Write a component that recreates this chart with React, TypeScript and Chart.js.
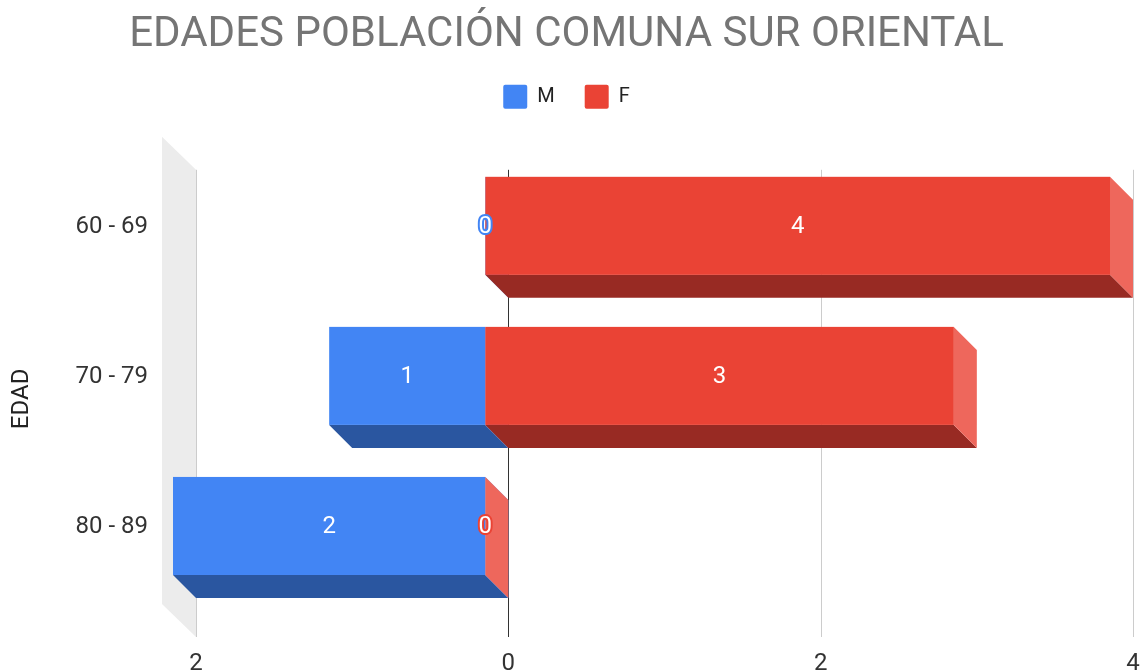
import React, { useEffect, useRef } from 'react';
import { Chart, registerables } from 'chart.js';

Chart.register(...registerables);

const TITLE = 'EDADES POBLACIÓN COMUNA SUR ORIENTAL';
const AXIS_TITLE = 'EDAD';
const categories = ['60 - 69', '70 - 79', '80 - 89'];
const seriesNames = ['M', 'F'];
const maleValues = [0, 1, 2];
const femaleValues = [4, 3, 0];
const xMin = -2;
const xMax = 4;
const xStep = 2;

const FONT = 'Roboto, "Noto Sans", Arial, sans-serif';
const DEPTH = 23;
const WALL_W = 34;
const WALL_RISE = 33;
const FACES = [
  { front: '#4285f4', bottom: '#2a56a0', side: '#6d9ef6' },
  { front: '#ea4335', bottom: '#982a23', side: '#ee675c' },
];

function poly(ctx: CanvasRenderingContext2D, pts: number[][], color: string) {
  ctx.beginPath();
  ctx.moveTo(pts[0][0], pts[0][1]);
  for (let i = 1; i < pts.length; i++) ctx.lineTo(pts[i][0], pts[i][1]);
  ctx.closePath();
  ctx.fillStyle = color;
  ctx.fill();
}

const bars3d = {
  id: 'bars3d',
  beforeDatasetsDraw(chart: any) {
    const ctx: CanvasRenderingContext2D = chart.ctx;
    const { left, top, bottom } = chart.chartArea;
    const gTop = top - 4;
    const gBottom = bottom + 13;
    const d = DEPTH;
    const xs = chart.scales.x;
    const zeroPx = xs.getPixelForValue(0);
    ctx.save();
    // side wall
    poly(ctx, [[left - WALL_W, gTop - WALL_RISE], [left, gTop], [left, gBottom], [left - WALL_W, gBottom - WALL_RISE]], '#ececec');
    // grid lines
    xs.ticks.forEach((t: any) => {
      const px = Math.round(xs.getPixelForValue(t.value)) + 0.5;
      ctx.beginPath();
      ctx.moveTo(px, gTop);
      ctx.lineTo(px, gBottom);
      ctx.lineWidth = 1;
      ctx.strokeStyle = t.value === 0 ? '#333333' : '#cccccc';
      ctx.stroke();
    });
    // bars
    const n = chart.data.labels.length;
    const labels: any[] = [];
    for (let i = 0; i < n; i++) {
      chart.data.datasets.forEach((ds: any, di: number) => {
        const el = chart.getDatasetMeta(di).data[i];
        const { x, y, base, height } = el.getProps(['x', 'y', 'base', 'height'], true);
        const isZero = Number(ds.data[i]) === 0;
        const l = isZero ? zeroPx : Math.min(x, base);
        const r = isZero ? zeroPx : Math.max(x, base);
        const t = y - height / 2;
        const b = y + height / 2;
        const c = FACES[di];
        poly(ctx, [[l - d, b - d], [r - d, b - d], [r, b], [l, b]], c.bottom);
        poly(ctx, [[r - d, t - d], [r, t], [r, b], [r - d, b - d]], c.side);
        if (r - l > 0) {
          ctx.fillStyle = c.front;
          ctx.fillRect(l - d, t - d, r - l, b - t);
        }
        labels.push({ x: (l + r) / 2 - d, y: y - d, v: Math.abs(Number(ds.data[i])), color: c.front });
      });
    }
    // value labels
    ctx.font = `24px ${FONT}`;
    ctx.textAlign = 'center';
    ctx.textBaseline = 'middle';
    labels.forEach((lb) => {
      const txt = String(lb.v);
      if (lb.v === 0) {
        ctx.lineWidth = 4;
        ctx.lineJoin = 'round';
        ctx.strokeStyle = lb.color;
        ctx.strokeText(txt, lb.x, lb.y + 1);
      }
      ctx.fillStyle = '#ffffff';
      ctx.fillText(txt, lb.x, lb.y + 1);
    });
    ctx.restore();
    return false;
  },
};

export default function App() {
  const ref = useRef<HTMLCanvasElement>(null);
  useEffect(() => {
    document.body.style.margin = '0';
    const chart = new Chart(ref.current as HTMLCanvasElement, {
      type: 'bar',
      data: {
        labels: categories,
        datasets: [
          { label: seriesNames[0], data: maleValues.map((v) => -v), backgroundColor: FACES[0].front, borderWidth: 0 },
          { label: seriesNames[1], data: femaleValues, backgroundColor: FACES[1].front, borderWidth: 0 },
        ],
      },
      options: {
        indexAxis: 'y',
        responsive: false,
        animation: false,
        events: [],
        devicePixelRatio: 1,
        datasets: { bar: { barPercentage: 98 / 150, categoryPercentage: 1 } },
        layout: { padding: { left: 0, right: 9, top: 0, bottom: 0 } },
        scales: {
          x: {
            type: 'linear',
            stacked: true,
            min: xMin,
            max: xMax,
            grid: { display: false, drawTicks: true, tickLength: 26 },
            border: { display: false },
            ticks: {
              stepSize: xStep,
              padding: 0,
              color: '#333333',
              font: { family: FONT, size: 24 },
              callback: (v: any) => String(Math.abs(Number(v))),
            },
            afterFit: (s: any) => { s.height = 48; },
          },
          y: {
            stacked: true,
            grid: { display: false, drawTicks: true, tickLength: 48 },
            border: { display: false },
            ticks: {
              padding: 0,
              labelOffset: -DEPTH + 1,
              color: '#333333',
              font: { family: FONT, size: 24 },
            },
            title: {
              display: true,
              text: AXIS_TITLE,
              color: '#222222',
              font: { family: FONT, size: 24 },
              padding: { top: 8, bottom: 0 },
            },
            afterFit: (s: any) => { s.width = 196; },
          },
        },
        plugins: {
          title: {
            display: true,
            text: TITLE,
            color: '#757575',
            font: { family: FONT, size: 42, weight: 'normal', lineHeight: 0.9 },
            padding: { top: 17, bottom: 0 },
          },
          legend: {
            display: true,
            position: 'top',
            weight: 1800,
            labels: {
              boxWidth: 24,
              boxHeight: 24,
              padding: 30,
              color: '#222222',
              useBorderRadius: true,
              borderRadius: 2,
              font: { family: FONT, size: 20 },
            },
          },
          subtitle: {
            display: true,
            text: '',
            font: { size: 10, lineHeight: 1 },
            padding: { top: 45, bottom: 0 },
          },
          tooltip: { enabled: false },
        },
      },
      plugins: [bars3d],
    } as any);
    return () => chart.destroy();
  }, []);
  return <canvas ref={ref} width={1142} height={672} />;
}
